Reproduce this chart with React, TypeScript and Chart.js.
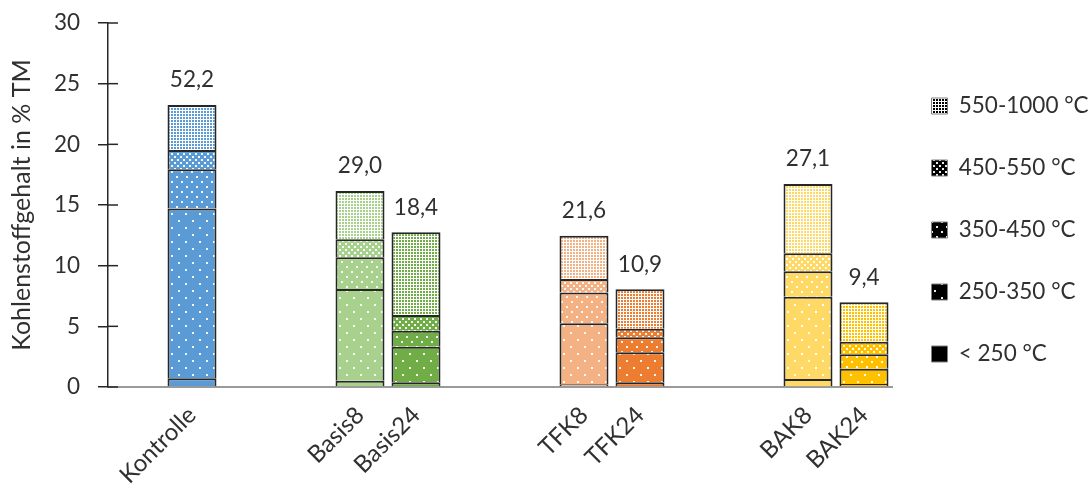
import { useEffect, useRef } from "react";
import { Chart, registerables } from "chart.js";

Chart.register(...registerables);

// ---- data ----
const categories = ["Kontrolle", "Basis8", "Basis24", "TFK8", "TFK24", "BAK8", "BAK24"];
const axisSlots = ["", "Kontrolle", "", "", "Basis8", "Basis24", "", "", "TFK8", "TFK24", "", "", "BAK8", "BAK24"];
const seriesLabels = ["< 250 °C", "250-350 °C", "350-450 °C", "450-550 °C", "550-1000 °C"];
const below250 = [0.72, 0.52, 0.39, 0.22, 0.39, 0.66, 0.25];
const from250to350 = [14.0, 7.56, 2.93, 5.03, 2.47, 6.78, 1.26];
const from350to450 = [3.22, 2.61, 1.32, 2.53, 1.24, 2.1, 1.19];
const from450to550 = [1.6, 1.49, 1.3, 1.12, 0.71, 1.48, 1.03];
const from550to1000 = [3.7, 3.98, 6.81, 3.57, 3.24, 5.72, 3.25];
const totalLabels = ["52,2", "29,0", "18,4", "21,6", "10,9", "27,1", "9,4"];
const yMin = 0;
const yMax = 30;
const yStep = 5;
const yTitle = "Kohlenstoffgehalt in % TM";

// ---- styles ----
const baseColors = ["#5B9BD5", "#A9D18E", "#70AD47", "#F4B183", "#ED7D31", "#FFD966", "#FFC000"];
const FONT = "Lato";
const TEXT = "#303030";
const EDGE = "#262626";

const series = [below250, from250to350, from350to450, from450to550, from550to1000];

function makeFill(base: string, kind: number): string | CanvasPattern {
  if (kind === 0) return base;
  const c = document.createElement("canvas");
  const white = "rgba(255,255,255,0.92)";
  if (kind === 4) {
    c.width = 3;
    c.height = 3;
    const ctx = c.getContext("2d")!;
    ctx.fillStyle = "#ffffff";
    ctx.fillRect(0, 0, 3, 3);
    ctx.fillStyle = base;
    ctx.fillRect(0, 0, 2, 2);
    return ctx.createPattern(c, "repeat")!;
  }
  const specs: Record<number, { w: number; h: number; dots: number[][]; s: number }> = {
    1: { w: 14, h: 14, dots: [[3, 3], [10, 10]], s: 2 },
    2: { w: 10, h: 10, dots: [[1, 1], [6, 6]], s: 2 },
    3: { w: 6, h: 6, dots: [[0, 0], [3, 3]], s: 2 },
  };
  const sp = specs[kind];
  c.width = sp.w;
  c.height = sp.h;
  const ctx = c.getContext("2d")!;
  ctx.fillStyle = base;
  ctx.fillRect(0, 0, sp.w, sp.h);
  ctx.fillStyle = white;
  sp.dots.forEach(([x, y]) => ctx.fillRect(x, y, sp.s, sp.s));
  return ctx.createPattern(c, "repeat")!;
}

const totalsPlugin = {
  id: "totals",
  afterDatasetsDraw(chart: any) {
    const ctx = chart.ctx;
    const y = chart.scales.y;
    const lastMeta = chart.getDatasetMeta(chart.data.datasets.length - 1);
    ctx.save();
    ctx.font = `22.5px ${FONT}`;
    ctx.fillStyle = TEXT;
    ctx.textAlign = "center";
    ctx.textBaseline = "middle";
    axisSlots.forEach((name, i) => {
      const ci = categories.indexOf(name);
      if (ci < 0) return;
      const total = series.reduce((s, arr) => s + arr[ci], 0);
      const bar = lastMeta.data[i];
      ctx.fillText(totalLabels[ci], bar.x, y.getPixelForValue(total) - 25);
    });
    ctx.restore();
  },
};

const crossTicks = {
  id: "crossTicks",
  afterDraw(chart: any) {
    const y = chart.scales.y;
    const ctx = chart.ctx;
    const left = chart.chartArea.left;
    ctx.save();
    ctx.strokeStyle = EDGE;
    ctx.lineWidth = 1.5;
    y.ticks.forEach((t: any) => {
      const py = y.getPixelForValue(t.value);
      ctx.beginPath();
      ctx.moveTo(left, py);
      ctx.lineTo(left + 10, py);
      ctx.stroke();
    });
    ctx.restore();
  },
};

export default function App() {
  const ref = useRef<HTMLCanvasElement>(null);

  useEffect(() => {
    document.body.style.margin = "0";
    const canvas = ref.current!;
    Chart.defaults.font.family = FONT;

    const legendPad = 39.5;
    const boxSize = 16;
    const fontSize = 22.5;

    const datasets = series.map((vals, k) => ({
      label: seriesLabels[k],
      data: axisSlots.map((n) => {
        const ci = categories.indexOf(n);
        return ci < 0 ? null : vals[ci];
      }),
      backgroundColor: axisSlots.map((n) => {
        const ci = categories.indexOf(n);
        return ci < 0 ? "rgba(0,0,0,0)" : makeFill(baseColors[ci], k);
      }),
      borderColor: EDGE,
      borderWidth: { top: 2, left: 2, right: 2, bottom: 0 },
      borderSkipped: false,
      barPercentage: 0.875,
      categoryPercentage: 1,
    }));

    const chart = new Chart(canvas, {
      type: "bar",
      data: { labels: axisSlots, datasets: datasets as any },
      plugins: [totalsPlugin, crossTicks],
      options: {
        animation: false,
        responsive: false,
        layout: { padding: { top: 23, right: 0, bottom: 0, left: 0 } },
        plugins: {
          tooltip: { enabled: false },
          legend: {
            position: "right",
            align: "start",
            maxWidth: 198,
            title: {
              display: true,
              text: " ",
              font: { size: 10, lineHeight: 1 },
              padding: { top: 22.25, bottom: 0 } as any,
            },
            labels: {
              boxWidth: boxSize,
              boxHeight: boxSize,
              padding: legendPad,
              color: TEXT,
              font: { size: fontSize, family: FONT },
              generateLabels: () =>
                seriesLabels
                  .map((t, k) => ({
                    text: t,
                    fillStyle: makeFill("#000000", k) as any,
                    strokeStyle: "#808080",
                    lineWidth: 1,
                    hidden: false,
                    datasetIndex: k,
                    fontColor: TEXT,
                  }))
                  .reverse(),
            },
          },
        },
        scales: {
          x: {
            stacked: true,
            grid: { display: false, drawTicks: false },
            border: { display: true, color: "#9a9a9a", width: 2 },
            ticks: {
              autoSkip: false,
              maxRotation: 45,
              minRotation: 45,
              padding: 14,
              color: TEXT,
              font: { size: 24, family: FONT },
            },
            afterFit: (s: any) => {
              s.height = 101;
            },
          },
          y: {
            stacked: true,
            min: yMin,
            max: yMax,
            ticks: {
              stepSize: yStep,
              padding: 18,
              color: TEXT,
              font: { size: fontSize, family: FONT },
            },
            grid: {
              display: true,
              drawOnChartArea: false,
              drawTicks: true,
              tickLength: 10,
              color: EDGE,
              lineWidth: 1.5,
            },
            border: { display: true, color: EDGE, width: 1.5 },
            title: {
              display: true,
              text: yTitle,
              color: TEXT,
              font: { size: 25, family: FONT },
              padding: { top: 7, bottom: 0 } as any,
            },
            afterFit: (s: any) => {
              s.width = 108;
              s.paddingTop = 0;
              s.paddingBottom = 0;
            },
          },
        },
      },
    });
    return () => chart.destroy();
  }, []);

  return (
    <div style={{ width: 1090, height: 488 }}>
      <canvas ref={ref} width={1090} height={488} style={{ display: "block" }} />
    </div>
  );
}
